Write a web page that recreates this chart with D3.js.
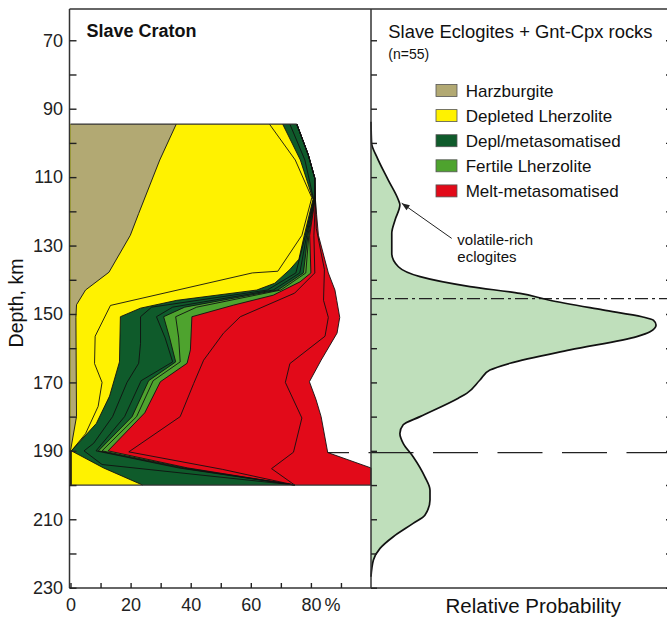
<!DOCTYPE html>
<html><head><meta charset="utf-8">
<script src="https://cdn.jsdelivr.net/npm/d3@7"></script>
<style>
html,body{margin:0;padding:0;background:#fff;}
svg{display:block;font-family:"Liberation Sans", Arial, Helvetica, sans-serif;}
</style></head><body>
<svg id="chart" width="667" height="621"></svg>
<script>
// ---------- data ----------
const depthTicks = d3.range(70, 231, 10);          // every 10 km, labelled every 20 km
const depthLabels = [70, 90, 110, 130, 150, 170, 190, 210, 230];
const percentTicks = d3.range(0, 91, 10);
const percentLabels = [0, 20, 40, 60, 80];

const classNames = ["Harzburgite", "Depleted Lherzolite", "Depl/metasomatised", "Fertile Lherzolite", "Melt-metasomatised"];
const classColors = ["#b2a973", "#fff200", "#0f5b2b", "#4ea32e", "#e20a19"];

// cumulative percentage boundaries, [depth km, cumulative %]
const harzburgite   = [[94.5,35.2],[105,29.7],[120.6,22.7],[127,19.9],[137.8,12.8],[143,5],[147.3,2],[151,1.8],[180,2],[190,0],[200,0]];
const deplLherzA    = [[94.5,66.2],[105,74.8],[116,80.3],[127,77],[137.5,69],[138,60.5],[147.5,13.3],[156.5,8.2],[164.5,8],[170,10.5],[177,9.2],[185,5],[190,0.3],[200,0.3]];
const deplLherzB    = [[94.5,70.6],[105,76.5],[116.5,80.7],[127,77.8],[134,76],[137,73],[141,68],[143,62],[146,35.4],[148.3,23.3],[150.8,16.6],[164,16.3],[174,13],[182,8.6],[190,0.3],[195,11],[200,24]];
const deplMetaA     = [[94.5,73],[105,78],[116.5,80.9],[127,78.2],[138,75],[143,65.5],[148,27],[150.8,23.3],[158.6,23.3],[164.4,22.7],[170,18.8],[180,14],[187.8,7.7],[190,4.5],[194,10.5],[200,74.6]];
const deplMetaB     = [[94.5,75.3],[103.4,79.1],[110.3,81.3],[116.5,81.1],[127,78.6],[138,76.3],[143,67.5],[148,34],[150.8,28.6],[157,31.5],[164,34],[169.5,23.5],[180,18],[190,8.5],[195,36],[200,74.6]];
const deplMetaC     = [[94.5,75.3],[103.4,79.1],[110.3,81.3],[116.5,81.2],[127,79],[138,77.5],[143,69],[148,38],[150.8,31],[157,33],[164,35],[169.5,26],[180,20.5],[190,9.3],[195,37],[200,74.6]];
const fertileA      = [[94.5,75.3],[103.4,79.1],[110.3,81.3],[116.5,81.3],[127,79.3],[138,78.3],[143,70],[148,42],[150.8,35],[157,36],[164,36.5],[169.5,27.5],[180,22],[190,10.5],[195,38],[200,74.6]];
const fertileB      = [[94.5,75.3],[103.4,79.1],[110.3,81.3],[116.5,81.4],[127,79.6],[138,80],[140.6,76.4],[144.5,67.5],[147.4,54.3],[150.8,40.4],[160.5,39.9],[164.4,38.8],[169.8,29.9],[178.9,24.7],[190,12.5],[195,39],[200,74.6]];
const meltA         = [[94.5,75.3],[103.4,79.1],[110.3,81.3],[116.5,81.5],[127,81],[138,81.3],[143.9,74.6],[150.8,56.5],[155.6,50.9],[163.5,44.3],[170.3,41],[180,36.5],[190.3,19.4],[195.4,50.5],[200,74.6]];
const meltB         = [[94.5,75.3],[103.4,79.1],[110.3,81.3],[116.5,81.5],[125,81.8],[137,84.5],[146,84.2],[151,85.8],[156.5,84.7],[164.5,73],[170,71.5],[180.4,77],[190.4,74.2],[195.2,66.9],[200,74.6]];
const meltC         = [[94.5,75.3],[103.4,79.1],[110.3,81.3],[116.5,81.5],[121,81.9],[127,82.5],[138,85.8],[143,88],[146,88.6],[151,89.6],[155.6,88.7],[163.5,83.4],[169.8,79.5],[175,81.7],[180,83.4],[190.5,85.6],[195,100],[200,100]];

const boundaries = [harzburgite, deplLherzA, deplLherzB, deplMetaA, deplMetaB, deplMetaC, fertileA, fertileB, meltA, meltB, meltC];
const boundaryClass = [0, 1, 1, 2, 2, 2, 3, 3, 4, 4, 4];

// eclogite relative probability vs depth, [depth km, relative probability]
const eclogiteDensity = [[93.8,0],[100.1,0.002],[104,0.019],[110.8,0.057],[116.7,0.091],[118.1,0.096],[122.5,0.08],[126.4,0.069],[132.3,0.069],[136.2,0.091],[139.1,0.163],[142,0.329],[144,0.495],[145.9,0.59],[148.8,0.77],[150.8,0.9],[151.8,0.938],[153.2,0.947],[155.2,0.927],[156.6,0.883],[160.5,0.661],[164.4,0.462],[166.4,0.395],[169.3,0.362],[173.2,0.318],[174.6,0.29],[180,0.163],[182.4,0.107],[184.9,0.096],[187.8,0.107],[191.7,0.14],[197.6,0.179],[201.5,0.196],[204.4,0.196],[208.8,0.179],[211.2,0.14],[215.1,0.074],[218.5,0.03],[221.9,0.008],[226.8,0]];

const dashDotDepth = 145.5;
const dashedDepth = 190.5;
const arrowFrom = [127.9, 0.268];   // [depth, probability]
const arrowTo = [117.6, 0.102];

// ---------- layout ----------
const svg = d3.select("#chart");
const frameTop = 9, frameBottom = 588;
const leftX0 = 69.5, midX = 371, rightX1 = 672;

const y = d3.scaleLinear().domain([60, 230]).range([6.06, 587.7]);
const xL = d3.scaleLinear().domain([0, 100]).range([70.5, 371]);
const xR = d3.scaleLinear().domain([0, 1]).range([371, 672]);

// ---------- right panel fill ----------
const densArea = d3.area()
  .y(d => y(d[0])).x0(xR(0)).x1(d => xR(d[1]))
  .curve(d3.curveMonotoneY);
svg.append("path").attr("d", densArea(eclogiteDensity)).attr("fill", "#bfdfbb");

// ---------- reference depth lines ----------
svg.append("line")
  .attr("x1", xL(77.7)).attr("x2", rightX1)
  .attr("y1", y(dashedDepth)).attr("y2", y(dashedDepth))
  .attr("stroke", "#222").attr("stroke-width", 1.2)
  .attr("stroke-dasharray", "45,19.5");
svg.append("line")
  .attr("x1", midX).attr("x2", rightX1)
  .attr("y1", y(dashDotDepth)).attr("y2", y(dashDotDepth))
  .attr("stroke", "#222").attr("stroke-width", 1.2)
  .attr("stroke-dasharray", "13,4,3,4");

// ---------- left panel stacked areas ----------
const gL = svg.append("g");
const area = d3.area().y(d => y(d[0])).x0(xL(0)).x1(d => xL(d[1]));
// paint from the outermost boundary inward so each band keeps its class colour
for (let i = boundaries.length - 1; i >= 0; i--) {
  gL.append("path").attr("d", area(boundaries[i]))
    .attr("fill", classColors[boundaryClass[i]]);
}
const line = d3.line().y(d => y(d[0])).x(d => xL(d[1]));
boundaries.forEach(b => {
  gL.append("path").attr("d", line(b)).attr("fill", "none")
    .attr("stroke", "#111").attr("stroke-width", 0.9).attr("stroke-linejoin", "round");
});
// top and bottom edges of the profile
const outer = boundaries[boundaries.length - 1];
const first = outer[0], last = outer[outer.length - 1];
gL.append("path").attr("d", line([[first[0], 0], first])).attr("stroke", "#333").attr("stroke-width", 1.3).attr("fill", "none");
gL.append("path").attr("d", line([[last[0], 0], last])).attr("stroke", "#333").attr("stroke-width", 1.3).attr("fill", "none");

// ---------- right panel curve ----------
const densLine = d3.line().y(d => y(d[0])).x(d => xR(d[1])).curve(d3.curveMonotoneY);
svg.append("path").attr("d", densLine(eclogiteDensity))
  .attr("fill", "none").attr("stroke", "#111").attr("stroke-width", 1.7);

// ---------- frame ----------
svg.append("line").attr("x1", leftX0).attr("x2", rightX1).attr("y1", frameTop).attr("y2", frameTop).attr("stroke", "#333").attr("stroke-width", 1.5);
svg.append("line").attr("x1", leftX0).attr("x2", rightX1).attr("y1", frameBottom).attr("y2", frameBottom).attr("stroke", "#333").attr("stroke-width", 1.5);
[leftX0, midX, rightX1].forEach(x => svg.append("line").attr("x1", x).attr("x2", x)
  .attr("y1", frameTop).attr("y2", frameBottom).attr("stroke", "#333").attr("stroke-width", 1.5));

// ---------- axes ----------
const fontTick = 18;
const axL = svg.append("g").attr("transform", `translate(${leftX0},0)`)
  .call(d3.axisLeft(y).tickValues(depthTicks).tickSize(-7).tickPadding(6.5)
    .tickFormat(d => depthLabels.includes(d) ? d : ""));
const axMid = svg.append("g").attr("transform", `translate(${midX},0)`)
  .call(d3.axisRight(y).tickValues(depthTicks).tickSize(6).tickFormat(""));
const axRight = svg.append("g").attr("transform", `translate(${rightX1},0)`)
  .call(d3.axisLeft(y).tickValues(depthTicks).tickSize(6).tickFormat(""));
const axB = svg.append("g").attr("transform", `translate(0,${frameBottom})`)
  .call(d3.axisBottom(xL).tickValues(percentTicks).tickSize(-5).tickPadding(10)
    .tickFormat(d => percentLabels.includes(d) ? d : ""));
[axL, axMid, axRight, axB].forEach(a => {
  a.select(".domain").remove();
  a.selectAll(".tick line").attr("stroke", "#222").attr("stroke-width", 1.4);
  a.selectAll("text").attr("font-size", fontTick).attr("fill", "#222")
    .attr("font-family", "Liberation Sans, Arial, sans-serif");
});
svg.append("text").attr("x", xL(80) + 13.5).attr("y", 611)
  .attr("font-size", fontTick).attr("fill", "#222").text("%");

// ---------- titles & labels ----------
svg.append("text").attr("x", 86.5).attr("y", 37.3).attr("font-size", 18).attr("font-weight", "bold")
  .attr("fill", "#111").text("Slave Craton");
svg.append("text").attr("transform", "translate(23.3,303) rotate(-90)").attr("text-anchor", "middle")
  .attr("font-size", 19.5).attr("fill", "#111").text("Depth, km");
svg.append("text").attr("x", 388.3).attr("y", 38.3).attr("font-size", 18.4)
  .attr("fill", "#111").text("Slave Eclogites + Gnt-Cpx rocks");
svg.append("text").attr("x", 388.3).attr("y", 59).attr("font-size", 14)
  .attr("fill", "#111").text("(n=55)");
svg.append("text").attr("x", 533.3).attr("y", 613).attr("text-anchor", "middle")
  .attr("font-size", 20.5).attr("fill", "#111").text("Relative Probability");

// ---------- legend ----------
const lg = svg.append("g").attr("transform", "translate(436,84.5)");
classNames.forEach((name, i) => {
  const row = lg.append("g").attr("transform", `translate(0,${i * 25.1})`);
  row.append("rect").attr("width", 21).attr("height", 12)
    .attr("fill", classColors[i]).attr("stroke", "#555").attr("stroke-width", 0.8);
  row.append("text").attr("x", 29.7).attr("y", 12).attr("font-size", 17)
    .attr("fill", "#111").text(name);
});

// ---------- annotation ----------
const ax0 = xR(arrowFrom[1]), ay0 = y(arrowFrom[0]);
const ax1 = xR(arrowTo[1]), ay1 = y(arrowTo[0]);
svg.append("line").attr("x1", ax0).attr("y1", ay0).attr("x2", ax1).attr("y2", ay1)
  .attr("stroke", "#222").attr("stroke-width", 1);
{
  const ang = Math.atan2(ay1 - ay0, ax1 - ax0), L = 8, W = 3;
  const bx = ax1 - L * Math.cos(ang), by = ay1 - L * Math.sin(ang);
  const px = -Math.sin(ang) * W, py = Math.cos(ang) * W;
  svg.append("path").attr("d", `M${ax1},${ay1}L${bx + px},${by + py}L${bx - px},${by - py}Z`).attr("fill", "#222");
}
svg.append("text").attr("x", 457.3).attr("y", 245).attr("font-size", 15).attr("fill", "#111").text("volatile-rich");
svg.append("text").attr("x", 457.3).attr("y", 262).attr("font-size", 15).attr("fill", "#111").text("eclogites");
</script>
</body></html>
